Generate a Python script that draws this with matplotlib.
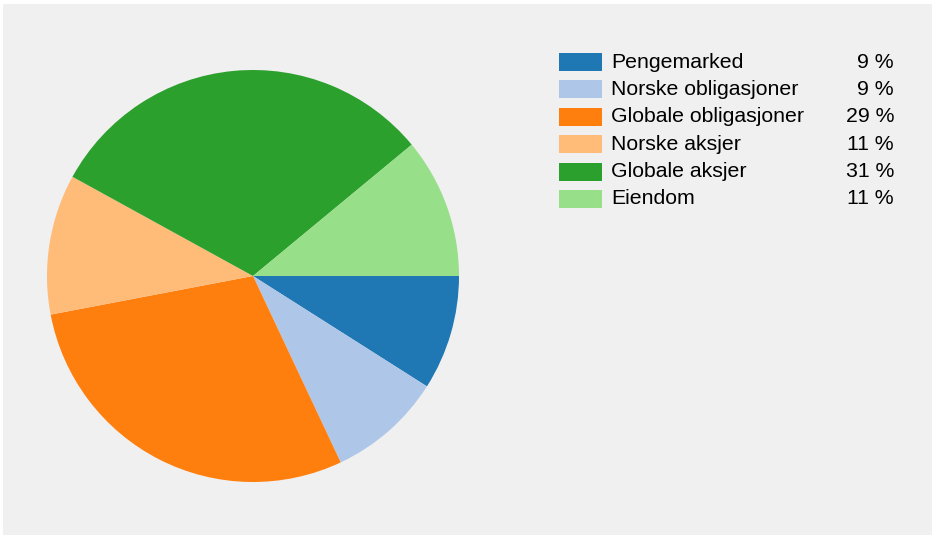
import matplotlib.pyplot as plt
from matplotlib.patches import Rectangle

labels = ['Pengemarked', 'Norske obligasjoner', 'Globale obligasjoner',
          'Norske aksjer', 'Globale aksjer', 'Eiendom']
values = [9, 9, 29, 11, 31, 11]
colors = ['#1f77b4', '#aec7e8', '#ff7f0e', '#ffbb78', '#2ca02c', '#98df8a']

plt.rcParams['font.family'] = ['Liberation Sans', 'DejaVu Sans']

W, H = 935, 539
fig = plt.figure(figsize=(W / 100, H / 100), dpi=100)
fig.patch.set_facecolor('white')
fig.patches.append(Rectangle((3 / W, 4 / H), 929 / W, 531 / H, transform=fig.transFigure,
                             facecolor='#f0f0f0', edgecolor='none', zorder=-10))

ax = fig.add_axes([47 / W, 57 / H, 412 / W, 412 / H])
ax.pie(values, colors=colors, startangle=0, counterclock=False,
       wedgeprops=dict(linewidth=0))
ax.set_xlim(-1, 1)
ax.set_ylim(-1, 1)
ax.set_aspect('equal')
ax.axis('off')

# legend drawn by hand
y0, dy = 62, 27.4
for i, (lab, val, c) in enumerate(zip(labels, values, colors)):
    yc = y0 + i * dy
    fig.patches.append(Rectangle((559 / W, 1 - (yc + 9) / H), 43 / W, 18 / H,
                                 transform=fig.transFigure, facecolor=c,
                                 edgecolor='none', zorder=2))
    fig.text(611 / W, 1 - yc / H, lab, fontsize=15.3, va='center', ha='left')
    fig.text(894 / W, 1 - yc / H, '%d %%' % val, fontsize=15.3, va='center', ha='right')

fig.savefig('out.png', dpi=100)
